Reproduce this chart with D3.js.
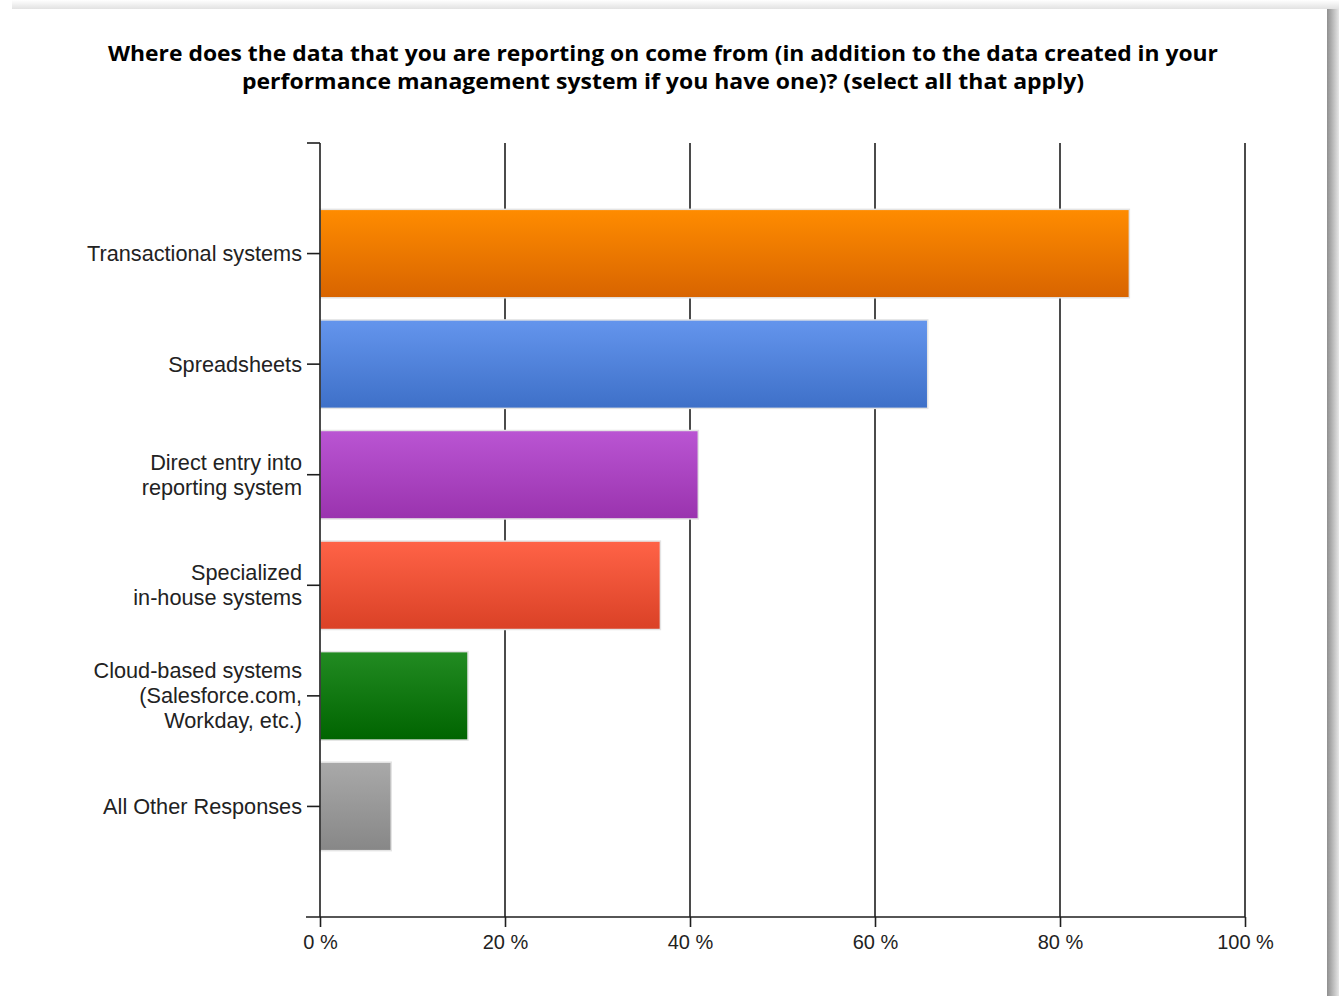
<!DOCTYPE html>
<html>
<head>
<meta charset="utf-8">
<script src="https://cdn.jsdelivr.net/npm/d3@7"></script>
<style>
  html, body { margin: 0; padding: 0; background: #ffffff; }
  svg { display: block; }
</style>
</head>
<body>
<svg id="chart" width="1339" height="996"></svg>
<script>
// Survey answers, share of respondents (%)
const categories = [
  ["Transactional systems"],
  ["Spreadsheets"],
  ["Direct entry into", "reporting system"],
  ["Specialized", "in-house systems"],
  ["Cloud-based systems", "(Salesforce.com,", "Workday, etc.)"],
  ["All Other Responses"]
];
const values = [87.5, 65.7, 40.9, 36.8, 16.0, 7.7];
const barTop = ["#FF8C00", "#6495ED", "#BA55D3", "#FF6347", "#228B22", "#A9A9A9"];
const barBottom = ["#D86400", "#3E70C8", "#9A33AE", "#DA4126", "#006400", "#878787"];
const tickValues = [0, 20, 40, 60, 80, 100];
const titleLines = [
  "Where does the data that you are reporting on come from (in addition to the data created in your",
  "performance management system if you have one)? (select all that apply)"
];

(function draw() {
  const svg = d3.select("#chart");
  const W = 1339, H = 996;
  const defs = svg.append("defs");

  // card shadow along the top and right edges
  const gTop = defs.append("linearGradient").attr("id", "shTop").attr("x1", 0).attr("y1", 0).attr("x2", 0).attr("y2", 1);
  gTop.append("stop").attr("offset", "0%").attr("stop-color", "#ffffff");
  gTop.append("stop").attr("offset", "100%").attr("stop-color", "#e2e2e2");
  const gRight = defs.append("linearGradient").attr("id", "shRight").attr("x1", 0).attr("y1", 0).attr("x2", 1).attr("y2", 0);
  gRight.append("stop").attr("offset", "0%").attr("stop-color", "#8f8f8f");
  gRight.append("stop").attr("offset", "100%").attr("stop-color", "#e6e6e6");

  svg.append("rect").attr("x", 12).attr("y", 0).attr("width", W - 12).attr("height", 9).attr("fill", "url(#shTop)");
  svg.append("rect").attr("x", 1327).attr("y", 9).attr("width", 12).attr("height", H - 9).attr("fill", "url(#shRight)");
  svg.append("rect").attr("x", 0).attr("y", 9).attr("width", 1327).attr("height", H - 9).attr("fill", "#ffffff");

  // bar gradients
  values.forEach((v, i) => {
    const g = defs.append("linearGradient").attr("id", "bar" + i)
      .attr("x1", 0).attr("y1", 0).attr("x2", 0).attr("y2", 1);
    g.append("stop").attr("offset", "0%").attr("stop-color", barTop[i]);
    g.append("stop").attr("offset", "100%").attr("stop-color", barBottom[i]);
  });

  // title
  svg.append("g").selectAll("text").data(titleLines).join("text")
    .attr("x", 663).attr("y", (d, i) => 61 + i * 28)
    .attr("text-anchor", "middle")
    .attr("font-family", "'Open Sans', 'DejaVu Sans', sans-serif")
    .attr("font-weight", "bold").attr("font-size", 21)
    .attr("fill", "#000")
    .attr("textLength", (d, i) => i === 0 ? 1110 : 842)
    .attr("lengthAdjust", "spacingAndGlyphs")
    .text(d => d);

  const pl = 320, pr = 1245, pt = 143, pb = 917;
  const x = d3.scaleLinear().domain([0, 100]).range([pl, pr]);
  const y = d3.scaleBand().domain(d3.range(categories.length)).range([pt, pb])
    .paddingInner(0.2).paddingOuter(0.6);

  // vertical grid lines
  svg.append("g").selectAll("line").data(tickValues.slice(1)).join("line")
    .attr("x1", d => x(d)).attr("x2", d => x(d))
    .attr("y1", pt).attr("y2", pb)
    .attr("stroke", "#1e1e1e").attr("stroke-width", 1.6);

  // bars
  svg.append("g").selectAll("rect").data(values).join("rect")
    .attr("x", x(0)).attr("y", (d, i) => y(i))
    .attr("width", d => x(d) - x(0)).attr("height", y.bandwidth())
    .attr("fill", (d, i) => `url(#bar${i})`)
    .attr("stroke", "#e4e4e4").attr("stroke-width", 1.5);

  // x axis
  const xAxis = svg.append("g").attr("transform", `translate(0,${pb})`)
    .call(d3.axisBottom(x).tickValues(tickValues).tickSize(10).tickSizeOuter(0).tickPadding(8)
      .tickFormat(d => d + " %"));
  xAxis.select(".domain").remove();
  xAxis.append("line").attr("x1", 306).attr("x2", pr).attr("y1", 0).attr("y2", 0)
    .attr("stroke", "#1e1e1e").attr("stroke-width", 1.6);
  xAxis.selectAll(".tick line").attr("stroke", "#1e1e1e").attr("stroke-width", 1.6);
  xAxis.selectAll(".tick text")
    .attr("font-family", "'Liberation Sans', Arial, sans-serif")
    .attr("font-size", 20).attr("fill", "#222")
    .attr("dy", "0.71em");

  // y axis
  const yAxis = svg.append("g").attr("transform", `translate(${pl},0)`)
    .call(d3.axisLeft(y).tickSize(13).tickSizeOuter(0).tickPadding(5).tickFormat(""));
  yAxis.select(".domain").remove();
  yAxis.append("line").attr("x1", 0).attr("x2", 0).attr("y1", pt).attr("y2", pb)
    .attr("stroke", "#1e1e1e").attr("stroke-width", 1.6);
  yAxis.append("line").attr("x1", -13).attr("x2", 0).attr("y1", pt).attr("y2", pt)
    .attr("stroke", "#1e1e1e").attr("stroke-width", 1.6);
  yAxis.selectAll(".tick line").attr("stroke", "#1e1e1e").attr("stroke-width", 1.6);

  // multi-line category labels
  yAxis.selectAll(".tick").each(function(d) {
    const lines = categories[d];
    const lh = 25;
    const t = d3.select(this).select("text")
      .attr("x", -18).attr("dy", null)
      .attr("text-anchor", "end")
      .attr("font-family", "'Liberation Sans', Arial, sans-serif")
      .attr("font-size", 21.7).attr("fill", "#222");
    lines.forEach((ln, k) => {
      t.append("tspan").attr("x", -18)
        .attr("y", (k - (lines.length - 1) / 2) * lh)
        .attr("dy", "0.35em")
        .text(ln);
    });
  });
})();
</script>
</body>
</html>
